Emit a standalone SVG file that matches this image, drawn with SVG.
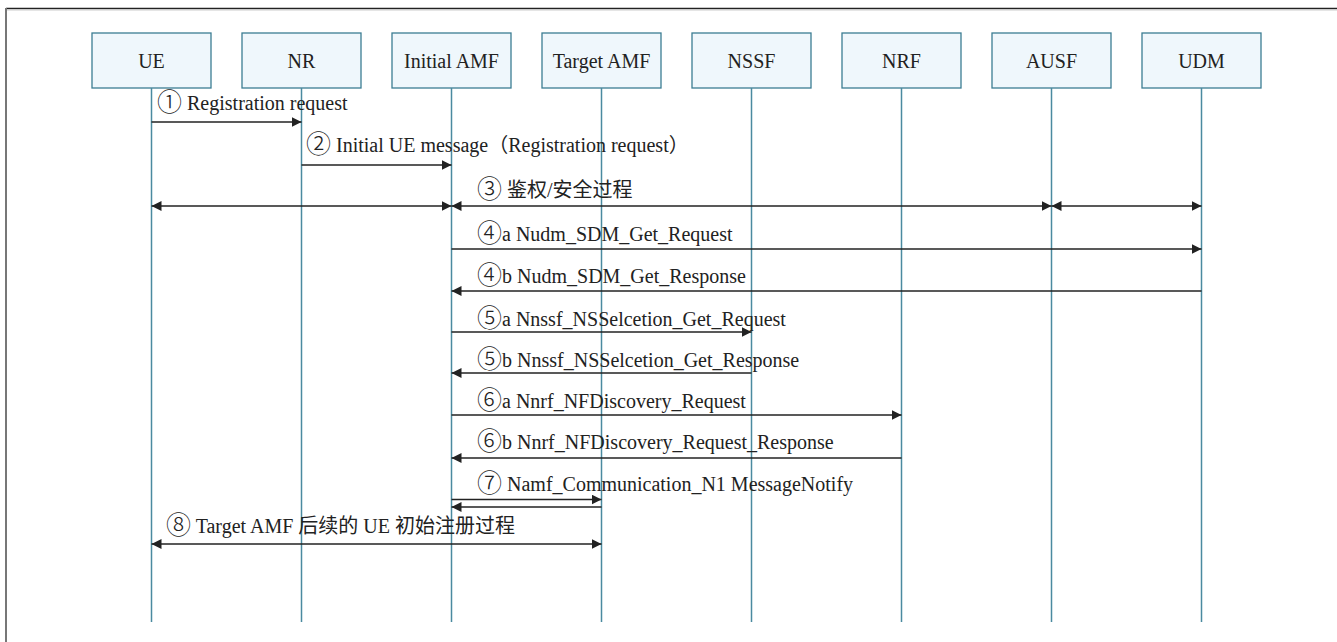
<svg xmlns="http://www.w3.org/2000/svg" width="1337" height="642" viewBox="0 0 1337 642">
<style>
.box{fill:#eff7fc;stroke:#3b7d93;stroke-width:1.3}
.life{stroke:#4a8aa0;stroke-width:1.5;fill:none}
.msg{stroke:#222;stroke-width:1.3;fill:none}
.t{font-family:"Liberation Serif","Noto Sans CJK SC",serif;font-size:20px;fill:#222}
.n{font-family:"Noto Sans CJK SC","Liberation Serif",sans-serif;font-weight:300;font-size:25px}
.c{text-anchor:middle}
</style>
<defs>
<marker id="ah" markerUnits="userSpaceOnUse" markerWidth="10" markerHeight="10" refX="10" refY="5" orient="auto-start-reverse" viewBox="0 0 10 10">
<path d="M0,0 L10,5 L0,10 Z" fill="#222"/>
</marker>
</defs>
<rect x="0" y="0" width="1337" height="642" fill="#fff"/>
<g id="frame">
<line x1="6" y1="8.5" x2="1337" y2="8.5" stroke="#222" stroke-width="1.5"/>
<line x1="7" y1="10" x2="1337" y2="10" stroke="#ccc" stroke-width="1"/>
<line x1="6" y1="8" x2="6" y2="642" stroke="#777" stroke-width="2"/>
</g>
<g id="UE"><rect class="box" x="92" y="33" width="119" height="55"/><line class="life" x1="151.5" y1="88" x2="151.5" y2="622"/><text class="t c" x="151.5" y="68">UE</text></g>
<g id="NR"><rect class="box" x="242" y="33" width="119" height="55"/><line class="life" x1="301.5" y1="88" x2="301.5" y2="622"/><text class="t c" x="301.5" y="68">NR</text></g>
<g id="InitialAMF"><rect class="box" x="392" y="33" width="119" height="55"/><line class="life" x1="451.5" y1="88" x2="451.5" y2="622"/><text class="t c" x="451.5" y="68">Initial AMF</text></g>
<g id="TargetAMF"><rect class="box" x="542" y="33" width="119" height="55"/><line class="life" x1="601.5" y1="88" x2="601.5" y2="622"/><text class="t c" x="601.5" y="68">Target AMF</text></g>
<g id="NSSF"><rect class="box" x="692" y="33" width="119" height="55"/><line class="life" x1="751.5" y1="88" x2="751.5" y2="622"/><text class="t c" x="751.5" y="68">NSSF</text></g>
<g id="NRF"><rect class="box" x="842" y="33" width="119" height="55"/><line class="life" x1="901.5" y1="88" x2="901.5" y2="622"/><text class="t c" x="901.5" y="68">NRF</text></g>
<g id="AUSF"><rect class="box" x="992" y="33" width="119" height="55"/><line class="life" x1="1051.5" y1="88" x2="1051.5" y2="622"/><text class="t c" x="1051.5" y="68">AUSF</text></g>
<g id="UDM"><rect class="box" x="1142" y="33" width="119" height="55"/><line class="life" x1="1201.5" y1="88" x2="1201.5" y2="622"/><text class="t c" x="1201.5" y="68">UDM</text></g>
<g id="connectors">
<line class="msg" x1="151.5" y1="122" x2="301.5" y2="122" marker-end="url(#ah)"/>
<line class="msg" x1="301.5" y1="165" x2="451.5" y2="165" marker-end="url(#ah)"/>
<line class="msg" x1="151.5" y1="206" x2="451.5" y2="206" marker-start="url(#ah)" marker-end="url(#ah)"/>
<line class="msg" x1="451.5" y1="206" x2="1051.5" y2="206" marker-start="url(#ah)" marker-end="url(#ah)"/>
<line class="msg" x1="1051.5" y1="206" x2="1201.5" y2="206" marker-start="url(#ah)" marker-end="url(#ah)"/>
<line class="msg" x1="451.5" y1="249" x2="1201.5" y2="249" marker-end="url(#ah)"/>
<line class="msg" x1="1201.5" y1="291" x2="451.5" y2="291" marker-end="url(#ah)"/>
<line class="msg" x1="451.5" y1="332" x2="751.5" y2="332" marker-end="url(#ah)"/>
<line class="msg" x1="751.5" y1="373" x2="451.5" y2="373" marker-end="url(#ah)"/>
<line class="msg" x1="451.5" y1="415" x2="901.5" y2="415" marker-end="url(#ah)"/>
<line class="msg" x1="901.5" y1="458" x2="451.5" y2="458" marker-end="url(#ah)"/>
<line class="msg" x1="451.5" y1="499.5" x2="601.5" y2="499.5" marker-end="url(#ah)"/>
<line class="msg" x1="601.5" y1="507" x2="451.5" y2="507" marker-end="url(#ah)"/>
<line class="msg" x1="151.5" y1="544" x2="601.5" y2="544" marker-start="url(#ah)" marker-end="url(#ah)"/>
</g>
<g id="labels">
<text class="t" x="157" y="110"><tspan class="n" dy="1">①</tspan><tspan dy="-1"> Registration request</tspan></text>
<text class="t" x="306" y="152"><tspan class="n" dy="1">②</tspan><tspan dy="-1"> Initial UE message（Registration request）</tspan></text>
<text class="t" x="477" y="197"><tspan class="n" dy="1">③</tspan><tspan dy="-1"> 鉴权/安全过程</tspan></text>
<text class="t" x="477" y="241"><tspan class="n" dy="1">④</tspan><tspan dy="-1">a Nudm_SDM_Get_Request</tspan></text>
<text class="t" x="477" y="283"><tspan class="n" dy="1">④</tspan><tspan dy="-1">b Nudm_SDM_Get_Response</tspan></text>
<text class="t" x="477" y="326"><tspan class="n" dy="1">⑤</tspan><tspan dy="-1">a Nnssf_NSSelcetion_Get_Request</tspan></text>
<text class="t" x="477" y="367"><tspan class="n" dy="1">⑤</tspan><tspan dy="-1">b Nnssf_NSSelcetion_Get_Response</tspan></text>
<text class="t" x="477" y="408"><tspan class="n" dy="1">⑥</tspan><tspan dy="-1">a Nnrf_NFDiscovery_Request</tspan></text>
<text class="t" x="477" y="449"><tspan class="n" dy="1">⑥</tspan><tspan dy="-1">b Nnrf_NFDiscovery_Request_Response</tspan></text>
<text class="t" x="477" y="491"><tspan class="n" dy="1">⑦</tspan><tspan dy="-1"> Namf_Communication_N1 MessageNotify</tspan></text>
<text class="t" x="166" y="533"><tspan class="n" dy="1">⑧</tspan><tspan dy="-1"> Target AMF 后续的 UE 初始注册过程</tspan></text>
</g>
</svg>
